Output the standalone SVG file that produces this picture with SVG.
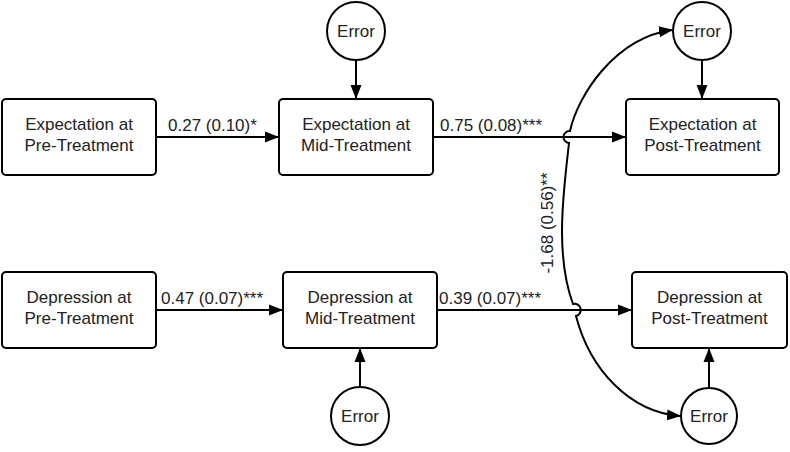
<svg xmlns="http://www.w3.org/2000/svg" width="790" height="452" viewBox="0 0 790 452">
<defs>
<marker id="ah" markerUnits="userSpaceOnUse" markerWidth="14" markerHeight="12" refX="13" refY="6" orient="auto-start-reverse">
<path d="M0,0.5 L14,6 L0,11.5 z" fill="#000"/>
</marker>
<style>
.box{fill:#fff;stroke:#000;stroke-width:2}
.err{fill:#fff;stroke:#000;stroke-width:2}
.t{font-family:"Liberation Sans",Arial,sans-serif;font-size:17px;fill:#222;text-anchor:middle}
.lbl{font-family:"Liberation Sans",Arial,sans-serif;font-size:17px;fill:#222}
.c{fill:none;stroke:#000;stroke-width:2}
</style>
</defs>
<rect width="790" height="452" fill="#fff"/>
<g id="connectors">
<line class="c" x1="157" y1="137" x2="278" y2="137" marker-end="url(#ah)"/>
<line class="c" x1="433" y1="137" x2="625" y2="137" marker-end="url(#ah)"/>
<line class="c" x1="157" y1="310" x2="282" y2="310" marker-end="url(#ah)"/>
<line class="c" x1="437" y1="310" x2="631" y2="310" marker-end="url(#ah)"/>
<line class="c" x1="356" y1="60" x2="356" y2="98" marker-end="url(#ah)"/>
<line class="c" x1="702" y1="60" x2="702" y2="98" marker-end="url(#ah)"/>
<line class="c" x1="360" y1="387" x2="360" y2="349" marker-end="url(#ah)"/>
<line class="c" x1="709" y1="387" x2="709" y2="349" marker-end="url(#ah)"/>
<path class="c" d="M 672 30 C 615 38, 578 95, 570 131 A 6 6 0 0 0 569 143 C 566 170, 562 200, 562 231 C 562 260, 566 285, 573 304 A 6 6 0 0 1 576 316 C 590 370, 630 412, 680 416" marker-start="url(#ah)" marker-end="url(#ah)"/>
<text class="lbl" x="168" y="131">0.27 (0.10)*</text>
<text class="lbl" x="440" y="131">0.75 (0.08)***</text>
<text class="lbl" x="161" y="304">0.47 (0.07)***</text>
<text class="lbl" x="439" y="304">0.39 (0.07)***</text>
<text class="lbl" x="553" y="223" text-anchor="middle" transform="rotate(-90 553 223)">-1.68 (0.56)**</text>
</g>
<g id="exp-pre"><rect class="box" x="2" y="99" width="154" height="76" rx="4"/><text class="t" x="79" y="130">Expectation at</text><text class="t" x="79" y="151">Pre-Treatment</text></g>
<g id="exp-mid"><rect class="box" x="279" y="99" width="154" height="76" rx="4"/><text class="t" x="356" y="130">Expectation at</text><text class="t" x="356" y="151">Mid-Treatment</text></g>
<g id="exp-post"><rect class="box" x="626" y="99" width="153" height="76" rx="4"/><text class="t" x="702.5" y="130">Expectation at</text><text class="t" x="702.5" y="151">Post-Treatment</text></g>
<g id="dep-pre"><rect class="box" x="2" y="272" width="154" height="76" rx="4"/><text class="t" x="79" y="303">Depression at</text><text class="t" x="79" y="324">Pre-Treatment</text></g>
<g id="dep-mid"><rect class="box" x="283" y="272" width="154" height="76" rx="4"/><text class="t" x="360" y="303">Depression at</text><text class="t" x="360" y="324">Mid-Treatment</text></g>
<g id="dep-post"><rect class="box" x="632" y="272" width="155" height="76" rx="4"/><text class="t" x="709.5" y="303">Depression at</text><text class="t" x="709.5" y="324">Post-Treatment</text></g>
<g id="err-exp-mid"><circle class="err" cx="356" cy="31" r="29"/><text class="t" x="356" y="37">Error</text></g>
<g id="err-exp-post"><circle class="err" cx="702" cy="31" r="29"/><text class="t" x="702" y="37">Error</text></g>
<g id="err-dep-mid"><circle class="err" cx="360" cy="416" r="29"/><text class="t" x="360" y="422">Error</text></g>
<g id="err-dep-post"><circle class="err" cx="709" cy="416" r="28"/><text class="t" x="709" y="422">Error</text></g>
</svg>
